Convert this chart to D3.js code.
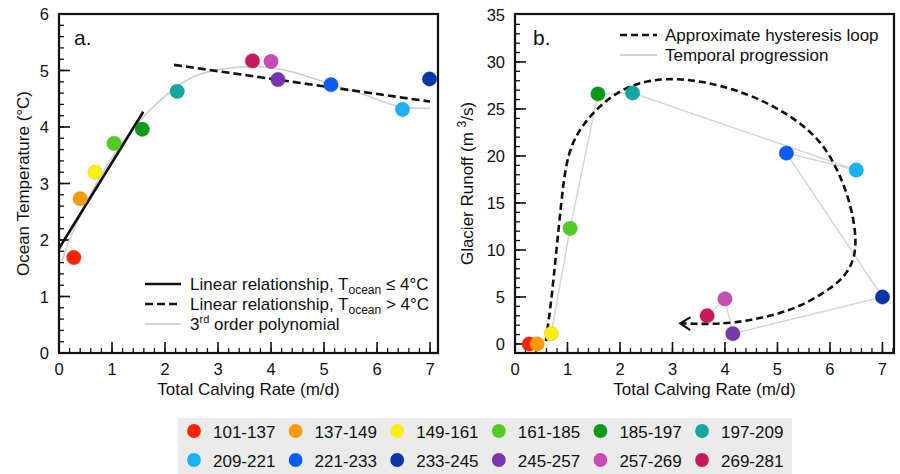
<!DOCTYPE html>
<html><head><meta charset="utf-8">
<script src="https://cdn.jsdelivr.net/npm/d3@7"></script>
<style>body{margin:0;background:#fff} text{font-family:"Liberation Sans",Arial,Helvetica,sans-serif;fill:#111}</style>
</head><body><svg id="c" width="900" height="474"></svg>
<script>
// ---------- data ----------
const periods = ["101-137","137-149","149-161","161-185","185-197","197-209","209-221","221-233","233-245","245-257","257-269","269-281"];
const colors  = ["#ff2400","#ff9a00","#fbee14","#52cc20","#0b9a18","#14a6a2","#18b2fb","#0a5dfb","#0a35a8","#7636ae","#c64db4","#c81a61"];
// panel a
const calvingA = [0.28,0.40,0.68,1.04,1.57,2.23,6.48,5.13,6.99,4.13,4.00,3.65];
const oceanTemp = [1.69,2.73,3.20,3.71,3.96,4.63,4.31,4.75,4.85,4.84,5.16,5.17];
const linLowX = [0.0,1.59], linLowY = [1.85,4.27];
const linHighX = [2.17,7.0], linHighY = [5.10,4.45];
const polyX = [0.05,0.2,0.45,0.8,1.2,1.6,1.84,2.28,2.66,3.29,3.92,4.36,5.18,5.8,6.31,6.62,7.0];
const polyY = [1.62,2.03,2.55,3.18,3.75,4.2,4.42,4.77,4.96,5.07,5.07,5.0,4.74,4.57,4.37,4.33,4.33];
// panel b
const calvingB = [0.27,0.42,0.69,1.05,1.58,2.24,6.50,5.17,7.00,4.15,4.00,3.66];
const runoff   = [0.0,0.0,1.1,12.3,26.6,26.7,18.5,20.3,5.0,1.1,4.8,3.0];
const loopX = [0.59,0.59,0.64,0.70,0.79,0.88,0.96,1.08,1.30,1.62,2.06,2.56,3.20,4.15,5.11,5.78,6.12,6.38,6.52,6.44,6.15,5.43,4.79,4.15,3.60,3.40,3.15];
const loopY = [0.3,0.3,2.5,5.0,10.0,15.0,18.8,21.3,23.4,25.4,27.2,28.1,28.3,27.3,24.9,22.0,18.9,15.3,11.1,8.4,6.3,3.9,2.85,2.2,2.12,2.15,2.2];
// ticks
const xMajorTicks = [0,1,2,3,4,5,6,7];
const yMajorTicksA = [0,1,2,3,4,5,6];
const yMajorTicksB = [0,5,10,15,20,25,30,35];

const svg = d3.select("#c");
const FS = 16.5;

function panel(g, x, y, opt){
  const [x0,x1] = x.range(), [y0,y1] = y.range();
  const tk = g.append("g").attr("stroke","#111");
  opt.xMinor.forEach(v=>{ if(x(v)>x0+1 && x(v)<x1-1) tk.append("line").attr("x1",x(v)).attr("x2",x(v)).attr("y1",y0).attr("y2",y0-5).attr("stroke-width",1.3);});
  xMajorTicks.forEach(v=>{ if(x(v)>x0+1) tk.append("line").attr("x1",x(v)).attr("x2",x(v)).attr("y1",y0).attr("y2",y0-11).attr("stroke-width",1.6);});
  opt.yMinor.forEach(v=>{ if(y(v)<y0-1 && y(v)>y1+1) tk.append("line").attr("y1",y(v)).attr("y2",y(v)).attr("x1",x0).attr("x2",x0+5).attr("stroke-width",1.3);});
  opt.yMajor.forEach(v=>{ if(y(v)<y0-1 && y(v)>y1+1) tk.append("line").attr("y1",y(v)).attr("y2",y(v)).attr("x1",x0).attr("x2",x0+11).attr("stroke-width",1.6);});
  xMajorTicks.forEach(v=> g.append("text").attr("x",x(v)).attr("y",y0+22).attr("text-anchor","middle").attr("font-size",FS).text(v));
  opt.yMajor.forEach(v=> g.append("text").attr("x",x0-10).attr("y",y(v)+6).attr("text-anchor","end").attr("font-size",FS).text(v));
  g.append("rect").attr("x",x0).attr("y",y1).attr("width",x1-x0).attr("height",y0-y1).attr("fill","none").attr("stroke","#111").attr("stroke-width",2.2);
  g.append("text").attr("x",(x0+x1)/2).attr("y",y0+42).attr("text-anchor","middle").attr("font-size",17).text("Total Calving Rate (m/d)");
}

function dots(g, x, y, xs, ys){
  xs.forEach((v,i)=> g.append("circle").attr("cx",x(v)).attr("cy",y(ys[i])).attr("r",7.2)
     .attr("fill",colors[i]).attr("stroke",d3.color(colors[i]).darker(0.5)).attr("stroke-opacity",0.5).attr("stroke-width",0.8));
}

// ---------- panel a ----------
const xa = d3.scaleLinear().domain([0,7.15]).range([59,438]);
const ya = d3.scaleLinear().domain([0,6]).range([353,14]);
const ga = svg.append("g");
panel(ga, xa, ya, {xMinor:d3.range(0,7.2,0.2), yMinor:d3.range(0,6.01,0.2), yMajor:yMajorTicksA});
const lineA = d3.line().x(d=>xa(d[0])).y(d=>ya(d[1]));
ga.append("path").attr("d", d3.line().curve(d3.curveBasis).x(d=>xa(d[0])).y(d=>ya(d[1]))(polyX.map((v,i)=>[v,polyY[i]])))
  .attr("fill","none").attr("stroke","#cfcfcf").attr("stroke-width",1.6);
ga.append("path").attr("d", lineA(linLowX.map((v,i)=>[v,linLowY[i]]))).attr("stroke","#111").attr("stroke-width",2.6).attr("fill","none");
ga.append("path").attr("d", lineA(linHighX.map((v,i)=>[v,linHighY[i]]))).attr("stroke","#111").attr("stroke-width",2.6).attr("stroke-dasharray","8,4").attr("fill","none");
dots(ga, xa, ya, calvingA, oceanTemp);
ga.append("text").attr("x",74).attr("y",45).attr("font-size",21).text("a.");
ga.append("text").attr("transform","translate(29,183.5) rotate(-90)").attr("text-anchor","middle").attr("font-size",17).text("Ocean Temperature (°C)");
const la = ga.append("g");
const laRows = [284,304,324];
la.append("line").attr("x1",145).attr("x2",181).attr("y1",laRows[0]).attr("y2",laRows[0]).attr("stroke","#111").attr("stroke-width",2.6);
la.append("line").attr("x1",145).attr("x2",181).attr("y1",laRows[1]).attr("y2",laRows[1]).attr("stroke","#111").attr("stroke-width",2.6).attr("stroke-dasharray","8,4");
la.append("line").attr("x1",145).attr("x2",181).attr("y1",laRows[2]).attr("y2",laRows[2]).attr("stroke","#d2d2d2").attr("stroke-width",2.2);
function linTxt(yy, rel){
  const t = la.append("text").attr("x",190).attr("y",yy+6).attr("font-size",17);
  t.append("tspan").text("Linear relationship, T");
  t.append("tspan").attr("font-size",12).attr("dy",4).text("ocean");
  t.append("tspan").attr("dy",-4).text(" "+rel+" 4°C");
}
linTxt(laRows[0],"≤"); linTxt(laRows[1],">");
const t3 = la.append("text").attr("x",190).attr("y",laRows[2]+6).attr("font-size",17);
t3.append("tspan").text("3");
t3.append("tspan").attr("font-size",11).attr("dy",-7).text("rd");
t3.append("tspan").attr("dy",7).text(" order polynomial");

// ---------- panel b ----------
const xb = d3.scaleLinear().domain([0,7.22]).range([515,894]);
const yb = d3.scaleLinear().domain([-0.96,35.1]).range([353,14]);
const gb = svg.append("g");
panel(gb, xb, yb, {xMinor:d3.range(0,7.21,0.2), yMinor:d3.range(0,35.01,1), yMajor:yMajorTicksB});
const lineB = d3.line().x(d=>xb(d[0])).y(d=>yb(d[1]));
gb.append("path").attr("d", lineB(calvingB.map((v,i)=>[v,runoff[i]]))).attr("fill","none").attr("stroke","#d6d6d6").attr("stroke-width",1.5);
const defs = svg.append("defs");
defs.append("marker").attr("id","arr").attr("markerUnits","userSpaceOnUse").attr("markerWidth",24).attr("markerHeight",24)
  .attr("viewBox","-12 -12 24 24").attr("refX",0).attr("refY",0).attr("orient","auto")
  .append("path").attr("d","M-10,-6.5L0,0L-10,6.5").attr("fill","none").attr("stroke","#111").attr("stroke-width",2.2);
gb.append("path").attr("d", d3.line().curve(d3.curveBasis).x(d=>xb(d[0])).y(d=>yb(d[1]))(loopX.map((v,i)=>[v,loopY[i]])))
  .attr("fill","none").attr("stroke","#111").attr("stroke-width",2.6).attr("stroke-dasharray","7,4").attr("marker-end","url(#arr)");
dots(gb, xb, yb, calvingB, runoff);
gb.append("text").attr("x",533).attr("y",45).attr("font-size",21).text("b.");
const yl = gb.append("text").attr("transform","translate(473,183.5) rotate(-90)").attr("text-anchor","middle").attr("font-size",17);
yl.append("tspan").text("Glacier Runoff (m ");
yl.append("tspan").attr("font-size",12).attr("dy",-7).text("3");
yl.append("tspan").attr("dy",7).text("/s)");
gb.append("line").attr("x1",620).attr("x2",657).attr("y1",35).attr("y2",35).attr("stroke","#111").attr("stroke-width",2.6).attr("stroke-dasharray","7,4");
gb.append("line").attr("x1",620).attr("x2",657).attr("y1",55).attr("y2",55).attr("stroke","#d2d2d2").attr("stroke-width",2.2);
gb.append("text").attr("x",665).attr("y",41).attr("font-size",17).text("Approximate hysteresis loop");
gb.append("text").attr("x",665).attr("y",61).attr("font-size",17).text("Temporal progression");

// ---------- period legend ----------
const lg = svg.append("g");
lg.append("rect").attr("x",178).attr("y",418).attr("width",614).attr("height",56).attr("fill","#ebebeb");
periods.forEach((p,i)=>{
  const col = i%6, row = Math.floor(i/6);
  const cx = 194 + col*101.6, cy = 431 + row*29;
  lg.append("circle").attr("cx",cx).attr("cy",cy).attr("r",6.9).attr("fill",colors[i]);
  lg.append("text").attr("x",cx+19).attr("y",cy+6.5).attr("font-size",17).text(p);
});
</script></body></html>
